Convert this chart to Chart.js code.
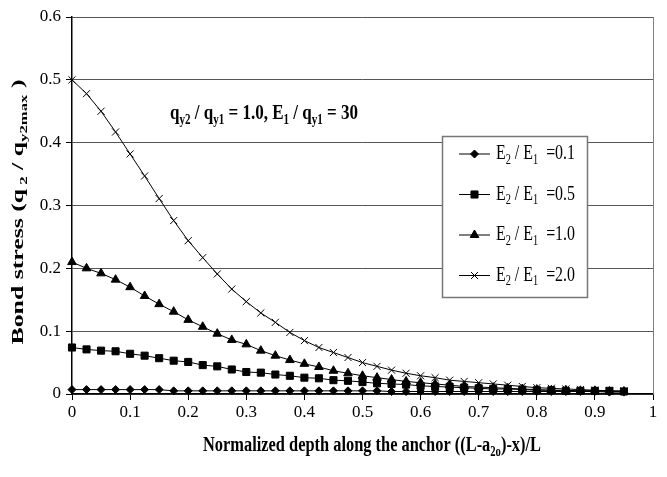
<!DOCTYPE html>
<html>
<head>
<meta charset="utf-8">
<script src="https://cdn.jsdelivr.net/npm/chart.js@4"></script>
<style>
html, body { margin: 0; padding: 0; background: #fff; }
#wrap { width: 667px; height: 477px; }
</style>
</head>
<body>
<div id="wrap"><canvas id="bondChart"></canvas></div>
<script>
// normalized depth (x) and bond stress for each stiffness ratio
const depth = [0, 0.025, 0.05, 0.075, 0.1, 0.125, 0.15, 0.175, 0.2, 0.225,
    0.25, 0.275, 0.3, 0.325, 0.35, 0.375, 0.4, 0.425, 0.45, 0.475,
    0.5, 0.525, 0.55, 0.575, 0.6, 0.625, 0.65, 0.675, 0.7, 0.725,
    0.75, 0.775, 0.8, 0.825, 0.85, 0.875, 0.9, 0.925, 0.95];
const ratio01 = [0.007, 0.007, 0.007, 0.007, 0.007, 0.007, 0.007, 0.005, 0.005, 0.005,
    0.005, 0.005, 0.005, 0.005, 0.005, 0.005, 0.005, 0.005, 0.005, 0.005,
    0.005, 0.005, 0.004, 0.004, 0.004, 0.004, 0.004, 0.004, 0.004, 0.004,
    0.004, 0.004, 0.004, 0.004, 0.004, 0.004, 0.004, 0.003, 0.003];
const ratio05 = [0.074, 0.071, 0.069, 0.068, 0.064, 0.061, 0.057, 0.053, 0.051, 0.046,
    0.044, 0.039, 0.035, 0.034, 0.031, 0.029, 0.026, 0.025, 0.022, 0.021,
    0.019, 0.017, 0.016, 0.015, 0.013, 0.012, 0.011, 0.010, 0.009, 0.008,
    0.008, 0.007, 0.006, 0.006, 0.005, 0.005, 0.005, 0.005, 0.004];
const ratio10 = [0.21, 0.200, 0.192, 0.182, 0.170, 0.156, 0.143, 0.131, 0.118, 0.107,
    0.096, 0.086, 0.079, 0.069, 0.061, 0.054, 0.048, 0.043, 0.037, 0.033,
    0.029, 0.026, 0.023, 0.020, 0.018, 0.016, 0.014, 0.012, 0.011, 0.010,
    0.009, 0.008, 0.007, 0.006, 0.006, 0.005, 0.005, 0.004, 0.004];
const ratio20 = [0.500, 0.478, 0.450, 0.417, 0.382, 0.347, 0.311, 0.276, 0.244, 0.217,
    0.191, 0.167, 0.147, 0.129, 0.114, 0.098, 0.085, 0.074, 0.066, 0.058,
    0.050, 0.044, 0.038, 0.033, 0.029, 0.026, 0.022, 0.020, 0.018, 0.016,
    0.014, 0.012, 0.010, 0.009, 0.008, 0.007, 0.006, 0.005, 0.005];
const seriesRatios = ['0.1', '0.5', '1.0', '2.0'];
const xTickLabels = ['0', '0.1', '0.2', '0.3', '0.4', '0.5', '0.6', '0.7', '0.8', '0.9', '1'];
const yTickLabels = ['0', '0.1', '0.2', '0.3', '0.4', '0.5', '0.6'];

const serif = '"Liberation Serif", "Times New Roman", serif';

function pts(ys) {
    return ys.map((y, i) => ({ x: depth[i], y: y }));
}

// text with subscripts; segs = [{t, sub}]
function drawRich(ctx, segs, o) {
    const b = o.bold ? 'bold ' : '';
    let total = 0;
    segs.forEach(s => {
        ctx.font = b + (s.sub ? o.size * 0.65 : o.size) + 'px ' + serif;
        s.w = ctx.measureText(s.t).width;
        total += s.w;
    });
    const sx = o.width ? o.width / total : 1;
    ctx.save();
    ctx.translate(o.x, o.y);
    if (o.rot) ctx.rotate(o.rot);
    ctx.scale(sx, o.sy || 1);
    ctx.fillStyle = '#000';
    ctx.textBaseline = 'middle';
    ctx.textAlign = 'left';
    let x = o.left ? 0 : -total / 2;
    segs.forEach(s => {
        ctx.font = b + (s.sub ? o.size * 0.65 : o.size) + 'px ' + serif;
        ctx.fillText(s.t, x, s.sub ? o.size * 0.3 : 0);
        x += s.w;
    });
    ctx.restore();
}

const extras = {
    id: 'extras',
    afterDraw(chart) {
        const ctx = chart.ctx;
        const a = chart.chartArea;
        // right border of plot area
        ctx.save();
        ctx.strokeStyle = '#808080';
        ctx.lineWidth = 1;
        ctx.beginPath();
        ctx.moveTo(a.right + 0.5, a.top);
        ctx.lineTo(a.right + 0.5, a.bottom);
        ctx.stroke();
        ctx.restore();

        // axis titles
        drawRich(ctx, [{ t: 'Bond stress (q' }, { t: ' 2', sub: true }, { t: ' / q' }, { t: 'y2max', sub: true }, { t: ' )' }],
            { x: 19, y: 212, size: 16, bold: true, width: 265, sy: 1.05, rot: -Math.PI / 2 });
        drawRich(ctx, [{ t: 'Normalized depth along the anchor ((L-a' }, { t: '2o', sub: true }, { t: ')-x)/L' }],
            { x: 372, y: 446, size: 16, bold: true, width: 338, sy: 1.3 });
        // annotation
        drawRich(ctx, [{ t: 'q' }, { t: 'y2', sub: true }, { t: ' / q' }, { t: 'y1', sub: true }, { t: ' = 1.0, E' },
            { t: '1', sub: true }, { t: ' / q' }, { t: 'y1', sub: true }, { t: ' = 30' }],
            { x: 264, y: 114, size: 16, bold: true, width: 188, sy: 1.3 });

        // legend
        const bx = 442, by = 136, bw = 145, bh = 161;
        ctx.save();
        ctx.fillStyle = '#fff';
        ctx.fillRect(bx, by, bw, bh);
        ctx.strokeStyle = '#777';
        ctx.lineWidth = 1.5;
        ctx.strokeRect(bx + 0.5, by + 0.5, bw, bh);
        ctx.restore();
        chart.data.datasets.forEach((ds, i) => {
            const y = 154 + i * 40.5;
            ctx.save();
            ctx.strokeStyle = '#000';
            ctx.lineWidth = 1;
            ctx.beginPath();
            ctx.moveTo(459, y);
            ctx.lineTo(490, y);
            ctx.stroke();
            ctx.fillStyle = '#000';
            Chart.helpers.drawPoint(ctx, { pointStyle: ds.pointStyle, radius: ds.pointRadius, rotation: 0, borderWidth: 1 }, 474.5, y);
            ctx.restore();
            drawRich(ctx, [{ t: 'E' }, { t: '2', sub: true }, { t: ' / E' }, { t: '1', sub: true }, { t: '  =' + seriesRatios[i] }],
                { x: 496, y: y, size: 16, width: 79, sy: 1.3, left: true });
        });
    }
};

function series(label, ys, style, r) {
    return {
        label: label,
        data: pts(ys),
        borderColor: '#000',
        backgroundColor: '#000',
        borderWidth: 1,
        pointStyle: style,
        pointRadius: r,
        pointBorderWidth: 1,
        pointBackgroundColor: '#000',
        pointBorderColor: '#000',
        tension: 0,
        clip: false
    };
}

const ctx = document.getElementById('bondChart').getContext('2d');
const bondChart = new Chart(ctx, {
    type: 'line',
    data: {
        datasets: [
            series('E2 / E1 =0.1', ratio01, 'rectRot', 4),
            series('E2 / E1 =0.5', ratio05, 'rect', 5),
            series('E2 / E1 =1.0', ratio10, 'triangle', 5),
            series('E2 / E1 =2.0', ratio20, 'crossRot', 5)
        ]
    },
    options: {
        responsive: true,
        maintainAspectRatio: false,
        animation: false,
        layout: { padding: { left: 0, top: 17, right: 14, bottom: 0 } },
        plugins: { legend: { display: false }, tooltip: { enabled: false } },
        scales: {
            x: {
                type: 'linear',
                min: 0,
                max: 1,
                afterFit: s => { s.height = 83; },
                ticks: {
                    stepSize: 0.1,
                    padding: 2,
                    color: '#000',
                    font: { family: serif, size: 17 },
                    maxRotation: 0,
                    callback: (v, i) => xTickLabels[i]
                },
                grid: { drawOnChartArea: false, color: '#000', tickLength: 6 },
                border: { color: '#000', width: 1.5 }
            },
            y: {
                min: 0,
                max: 0.6,
                afterFit: s => { s.width = 72; },
                ticks: {
                    stepSize: 0.1,
                    padding: 5,
                    color: '#000',
                    font: { family: serif, size: 17 },
                    callback: (v, i) => yTickLabels[i]
                },
                grid: { color: '#555', tickColor: '#000', tickLength: 6 },
                border: { color: '#000', width: 1.5 }
            }
        }
    },
    plugins: [extras]
});
</script>
</body>
</html>
